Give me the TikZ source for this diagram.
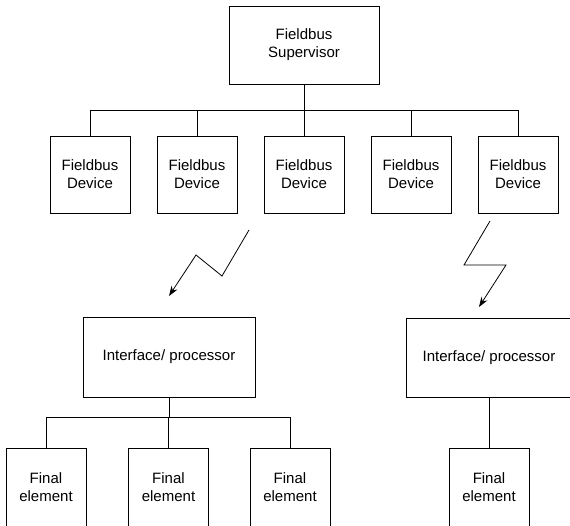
\documentclass[tikz,border=0pt]{standalone}
\usepackage{fontspec}
\setmainfont{Liberation Sans}
\usetikzlibrary{arrows.meta}

\begin{document}
\begin{tikzpicture}[x=1pt, y=-1pt, line width=0.8pt,
    every node/.style={font=\fontsize{15}{18}\selectfont, align=center},
    unitbox/.style={draw, minimum width=80pt, minimum height=77pt, inner sep=0pt},
    ifacebox/.style={draw, minimum width=170pt, minimum height=80pt, inner sep=0pt},
    radio/.style={-{Stealth[length=10pt, width=7pt]}}]
  \clip (0,0) rectangle (570,526);

  % supervisor and field devices
  \node[unitbox, minimum width=150pt, minimum height=78pt] (sup) at (304,45) {Fieldbus\\Supervisor};
  \foreach \i/\x in {1/90,2/197,3/304,4/411,5/518} {
    \node[unitbox] (dev\i) at (\x,174.5) {Fieldbus\\Device};
  }

  % fieldbus
  \coordinate (bus) at (0,110);
  \draw (dev1.north |- bus) -- (dev5.north |- bus);
  \draw (sup.south) -- (sup.south |- bus);
  \foreach \i in {1,...,5}
    \draw (dev\i.north |- bus) -- (dev\i.north);

  % radio links
  \coordinate (la) at (249,230);
  \coordinate (lb) at (222,276);
  \coordinate (lc) at (196,255);
  \coordinate (ld) at (169,296);
  \draw[radio] (la) -- (lb) -- (lc) -- (ld);
  \coordinate (ra) at (490,221);
  \coordinate (rb) at (464,265);
  \coordinate (rc) at (506,265);
  \coordinate (rd) at (479,307);
  \draw[radio] (ra) -- (rb) -- (rc) -- (rd);

  % interfaces
  \node[ifacebox, minimum width=172pt] (ifa) at (169,357) {Interface/ processor};
  \node[ifacebox, minimum width=166pt, minimum height=79pt] (ifb) at (489,357.5) {Interface/ processor};

  % final elements
  \foreach \n/\x in {1/46,2/168.5,3/290,4/489} {
    \node[unitbox, minimum height=79pt] (fe\n) at (\x,487.5) {Final\\element};
  }
  \coordinate (lbus) at (0,417);
  \draw (fe1.north |- lbus) -- (fe3.north |- lbus);
  \draw (ifa.south) -- (ifa.south |- lbus);
  \foreach \n in {1,2,3}
    \draw (fe\n.north |- lbus) -- (fe\n.north);
  \draw (ifb.south) -- (fe4.north);
\end{tikzpicture}
\end{document}
